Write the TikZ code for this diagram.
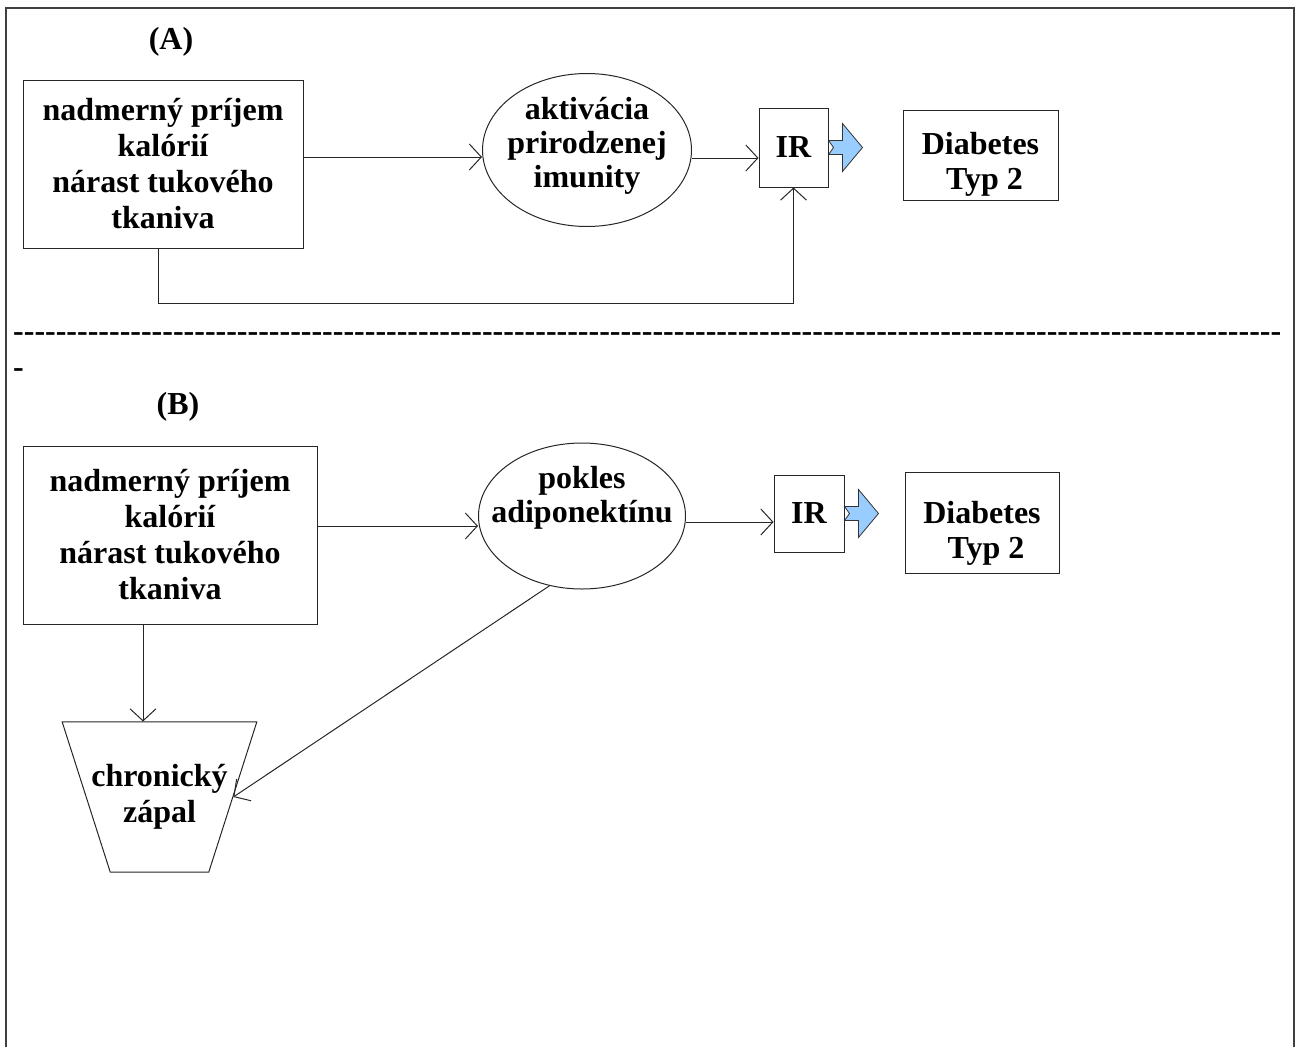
\documentclass[tikz,border=0pt]{standalone}
\usepackage{fontspec}
\setmainfont{Liberation Serif}
\usepackage{tikz}
\usetikzlibrary{arrows.meta,shapes.geometric}

\definecolor{irblue}{RGB}{153,204,255}

\tikzset{
  txt/.style={font=\fontsize{32}{36}\selectfont\bfseries, align=center},
  ovaltxt/.style={font=\fontsize{32}{34}\selectfont\bfseries, align=center},
  diatxt/.style={font=\fontsize{32}{35}\selectfont\bfseries, align=center},
  sepfont/.style={font=\fontsize{32}{36}\selectfont\bfseries, inner sep=0pt, anchor=base west},
  box/.style={txt, draw=black!85, line width=1pt, inner sep=0pt},
  oval/.style={draw=black!85, line width=1pt, ellipse, inner sep=0pt},
  arr/.style={draw=black!85, line width=1pt, -{Straight Barb[length=12pt,width=26pt]}},
  blockarr/.style={draw=black!80, line width=0.8pt, fill=irblue},
  frame/.style={draw=black!75, line width=1.5pt}
}

\newcommand{\irarrow}[1]{\draw[blockarr] (#1) ++(0,-7) -- ++(14,0) -- ++(0,-17) -- ++(20,24) -- ++(-20,24) -- ++(0,-17) -- ++(-14,0) -- ++(5,-7) -- cycle;}

\begin{document}
\begin{tikzpicture}[x=1pt,y=-1pt]

          \useasboundingbox (0,0) rectangle (1295,1047);
          \draw[frame] (6,1047) -- (6,8) -- (1294,8) -- (1294,1047);

          % (A)
          \node[txt] (labA) at (171,42) {(A)};

          \node[box, minimum width=280pt, minimum height=168pt] (kalA) at (163,164) {nadmerný príjem\\kalórií\\nárast tukového\\tkaniva};

          \node[oval, minimum width=209pt, minimum height=153pt,
                label={[ovaltxt, yshift=4pt]center:{aktivácia\\prirodzenej\\imunity}}] (immA) at (587,150) {};

          \node[box, minimum width=69pt, minimum height=79pt] (irA) at (793.5,147.5) {IR};
          \irarrow{irA.east}

          \node[box, minimum width=155pt, minimum height=90pt,
                label={[diatxt, yshift=-9pt]center:{Diabetes\\~Typ 2}}] (diaA) at (980.5,155) {};

          \draw[arr] (kalA.east |- 0,157) -- (immA.west |- 0,157);
          \draw[arr] (immA.east |- 0,158) -- (irA.west |- 0,158);
          \draw[arr] (kalA.south -| 158,0) |- (irA.south |- 0,303) -- (irA.south);

          % separator
          \node[sepfont] (sepA) at (13,341) {\foreach \k in {1,...,119}{-\kern0pt}};
          \node[sepfont] (sepB) at (13,377) {-};

          % (B)
          \node[txt] (labB) at (178,407) {(B)};

          \node[box, minimum width=294pt, minimum height=178pt] (kalB) at (170,535) {nadmerný príjem\\kalórií\\nárast tukového\\tkaniva};

          \node[oval, minimum width=207pt, minimum height=146pt,
                label={[ovaltxt, yshift=18pt]center:{pokles\\adiponektínu}}] (adiB) at (582,516) {};

          \node[box, minimum width=70pt, minimum height=77pt] (irB) at (809,513.5) {IR};
          \irarrow{irB.east}

          \node[box, minimum width=154pt, minimum height=101pt,
                label={[diatxt, yshift=-11pt]center:{Diabetes\\~Typ 2}}] (diaB) at (982,522.5) {};

          \node[box, trapezium, shape border rotate=180, trapezium left angle=72.3, trapezium right angle=72.3,
                trapezium stretches=true, inner xsep=-19pt, inner ysep=42.5pt,
                minimum width=195pt, minimum height=150pt] (zapal) at (159.5,797) {chronický\\zápal};

          \draw[arr] (kalB.east |- 0,526) -- (adiB.west |- 0,526);
          \draw[arr] (adiB.east |- 0,522) -- (irB.west |- 0,522);
          \draw[arr] (kalB.south -| 143,0) -- (zapal.90 -| 143,0);
          \draw[arr] (adiB.-115) -- (zapal.0);

\end{tikzpicture}
\end{document}
